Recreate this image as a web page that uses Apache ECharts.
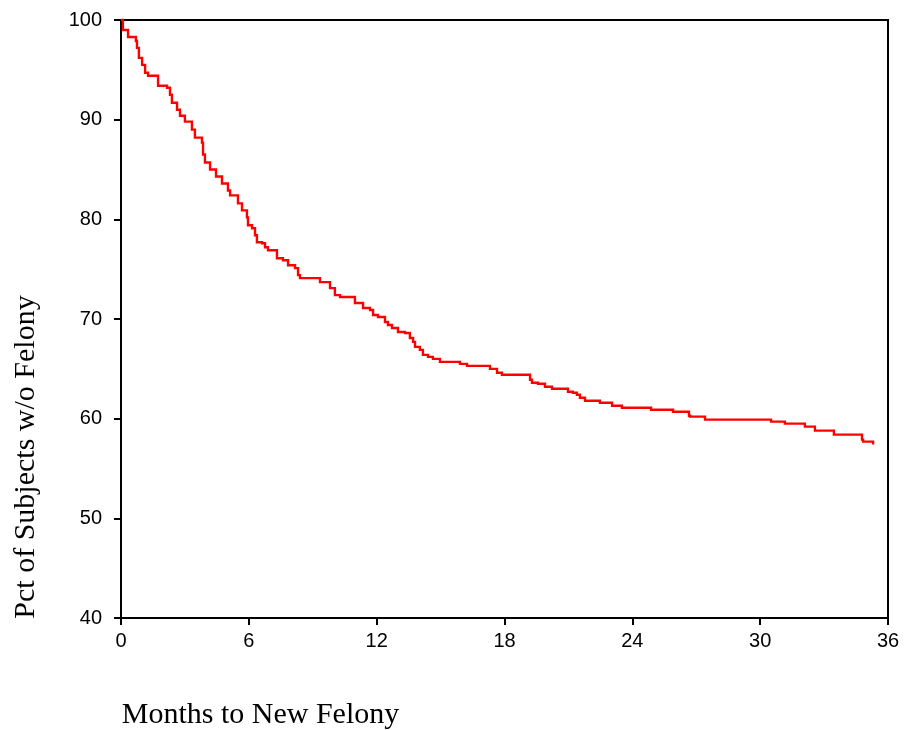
<!DOCTYPE html>
<html>
<head>
<meta charset="utf-8">
<script src="https://cdn.jsdelivr.net/npm/echarts@6/dist/echarts.min.js"></script>
<style>html,body{margin:0;padding:0;background:#fff}#c{width:904px;height:730px}</style>
</head>
<body>
<div id="c"></div>
<script>
// Kaplan-Meier step points: month at which the curve drops, and new percentage
const months = [0, 0.09, 0.33, 0.70, 0.75, 0.84, 0.99, 1.13, 1.27, 1.74, 2.16, 2.30, 2.39, 2.63, 2.77, 3.00, 3.33, 3.47, 3.80, 3.85, 3.94, 4.18, 4.46, 4.74, 5.02, 5.12, 5.49, 5.68, 5.91, 5.96, 6.15, 6.29, 6.38, 6.62, 6.76, 6.90, 7.32, 7.60, 7.84, 8.17, 8.31, 8.40, 9.34, 9.81, 10.04, 10.28, 10.98, 11.36, 11.69, 11.83, 12.06, 12.39, 12.53, 12.72, 13.00, 13.33, 13.56, 13.71, 13.80, 14.03, 14.17, 14.41, 14.64, 14.97, 15.91, 16.24, 17.32, 17.65, 17.88, 19.20, 19.29, 19.57, 19.90, 20.23, 20.98, 21.21, 21.40, 21.54, 21.78, 22.48, 23.05, 23.51, 24.88, 25.91, 26.66, 26.71, 27.41, 30.51, 31.16, 32.10, 32.57, 33.46, 34.78, 34.83, 35.30];
const pctWithoutFelony = [100, 99.0, 98.3, 97.9, 97.2, 96.2, 95.5, 94.7, 94.4, 93.4, 93.2, 92.5, 91.7, 91.0, 90.4, 89.8, 89.0, 88.2, 87.7, 86.5, 85.7, 85.0, 84.3, 83.6, 82.9, 82.4, 81.6, 80.9, 80.2, 79.4, 79.1, 78.4, 77.7, 77.6, 77.2, 76.9, 76.1, 75.9, 75.4, 75.1, 74.4, 74.1, 73.7, 73.1, 72.4, 72.2, 71.6, 71.1, 70.9, 70.4, 70.2, 69.7, 69.4, 69.1, 68.7, 68.6, 68.1, 67.7, 67.2, 66.9, 66.4, 66.2, 66.0, 65.7, 65.5, 65.3, 65.0, 64.6, 64.4, 63.9, 63.6, 63.5, 63.2, 63.0, 62.7, 62.6, 62.4, 62.1, 61.8, 61.6, 61.3, 61.1, 60.9, 60.7, 60.3, 60.2, 59.9, 59.7, 59.5, 59.2, 58.8, 58.4, 57.9, 57.7, 57.4];
const xTicks = [0, 6, 12, 18, 24, 30, 36];
const yTicks = [40, 50, 60, 70, 80, 90, 100];
const xTitle = 'Months to New Felony';
const yTitle = 'Pct of Subjects w/o Felony';

const chart = echarts.init(document.getElementById('c'), null, {renderer: 'canvas'});
const labelFont = {color: '#000', fontFamily: 'Arial, "Liberation Sans", sans-serif', fontSize: 20};
const titleFont = {color: '#000', fontFamily: '"Liberation Serif", "Times New Roman", serif', fontSize: 30};

// Draw the Kaplan-Meier staircase through the axes' scales (api.coord)
function renderSteps(params, api) {
  if (params.dataIndex !== 0) return null;
  const pts = [];
  for (let i = 0; i < months.length; i++) {
    if (i > 0) pts.push(api.coord([months[i], pctWithoutFelony[i - 1]]));
    pts.push(api.coord([months[i], pctWithoutFelony[i]]));
  }
  return {
    type: 'polyline',
    shape: {points: pts},
    style: {stroke: '#ff0000', lineWidth: 2.4, fill: null, lineJoin: 'miter'},
    silent: true
  };
}

chart.setOption({
  animation: false,
  backgroundColor: '#fff',
  grid: {left: 121, right: 16, top: 20, bottom: 112, show: true, borderColor: '#000', borderWidth: 2, backgroundColor: 'transparent', containLabel: false, outerBoundsMode: 'none'},
  xAxis: {
    type: 'value', min: xTicks[0], max: xTicks[xTicks.length - 1], interval: 6,
    axisLine: {show: true, lineStyle: {color: '#000', width: 2}},
    axisTick: {show: true, length: 7, lineStyle: {color: '#000', width: 2}},
    splitLine: {show: false},
    axisLabel: Object.assign({margin: 13}, labelFont),
    name: xTitle, nameLocation: 'middle', nameGap: 82,
    nameTextStyle: Object.assign({padding: [0, 488, 0, 0]}, titleFont)
  },
  yAxis: {
    type: 'value', min: yTicks[0], max: yTicks[yTicks.length - 1], interval: 10,
    axisLine: {show: true, lineStyle: {color: '#000', width: 2}},
    axisTick: {show: true, length: 7, lineStyle: {color: '#000', width: 2}},
    splitLine: {show: false},
    axisLabel: Object.assign({margin: 19}, labelFont),
    name: yTitle, nameLocation: 'middle', nameGap: 80, nameRotate: 90,
    nameTextStyle: Object.assign({padding: [0, 276, 0, 0]}, titleFont)
  },
  series: [{
    type: 'custom',
    name: 'Survival',
    renderItem: renderSteps,
    data: months.map((m, i) => [m, pctWithoutFelony[i]]),
    encode: {x: 0, y: 1},
    clip: false
  }]
});
</script>
</body>
</html>
